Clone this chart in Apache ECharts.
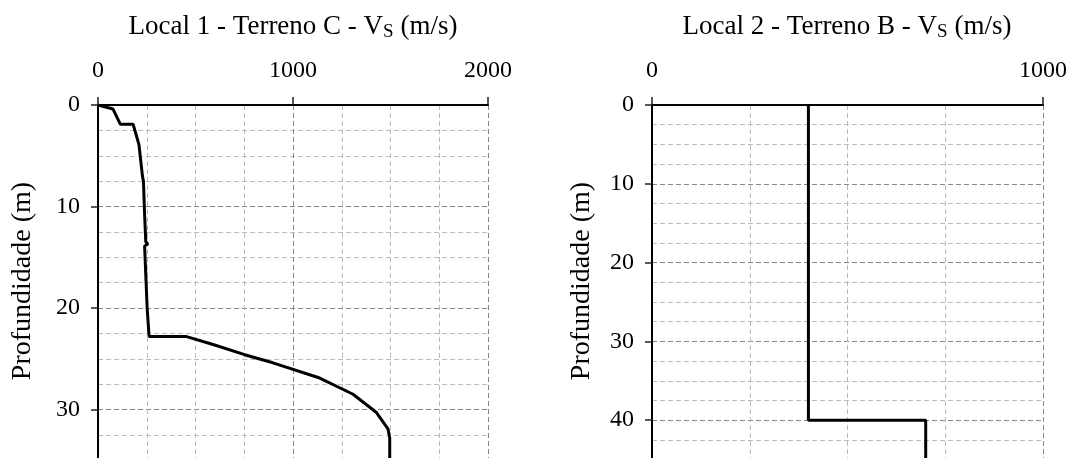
<!DOCTYPE html>
<html>
<head>
<meta charset="utf-8">
<script src="https://cdn.jsdelivr.net/npm/echarts@6/dist/echarts.min.js"></script>
<style>
  html, body { margin: 0; padding: 0; background: #fff; }
  #chart { width: 1069px; height: 458px; }
</style>
</head>
<body>
<div id="chart"></div>
<script>
// Local 1 - Terreno C
const local1Depth = [0, 0.4, 1.9, 1.9, 3.9, 7.0, 7.5, 7.6, 10.8, 13.5, 13.7, 13.9, 20.0, 22.8, 22.8, 23.6, 24.6, 25.4, 26.9, 28.5, 30.3, 31.9, 32.8, 35.5];
const local1Vs = [0, 77, 115, 180, 210, 228, 233, 228, 239, 245, 256, 239, 252, 262, 450, 590, 752, 897, 1137, 1308, 1428, 1487, 1496, 1496];

// Local 2 - Terreno B
const local2Depth = [0, 40, 40, 46];
const local2Vs = [400, 400, 700, 700];

const FONT = "'Liberation Serif', 'Times New Roman', serif";

function pairs(xs, ys) {
  return xs.map((x, i) => [x, ys[i]]);
}

function titleOf(text, cx) {
  return {
    text: '{n|' + text + ' - V}{s|S}{n| (m/s)}',
    left: cx,
    top: 12,
    textAlign: 'center',
    padding: 0,
    textStyle: {
      fontWeight: 'normal',
      rich: {
        n: { fontFamily: FONT, fontSize: 27, fontWeight: 'normal', color: '#000', lineHeight: 30 },
        s: { fontFamily: FONT, fontSize: 19, fontWeight: 'normal', color: '#000', lineHeight: 15, verticalAlign: 'bottom' }
      }
    }
  };
}

function xAxisOf(gridIndex, max) {
  return {
    type: 'value',
    gridIndex: gridIndex,
    position: 'top',
    min: 0,
    max: max,
    interval: 1000,
    axisLine: { show: true, lineStyle: { color: '#000', width: 2 } },
    axisTick: { show: true, length: 8, lineStyle: { color: '#222', width: 1.5 } },
    minorTick: { show: false, splitNumber: 4 },
    axisLabel: { fontFamily: FONT, fontSize: 24, color: '#000', margin: 22, formatter: v => String(v) },
    splitLine: { show: true, lineStyle: { color: '#888', type: [5, 3], width: 1 } },
    minorSplitLine: { show: true, lineStyle: { color: '#bbb', type: [5, 3], width: 1 } }
  };
}

function yAxisOf(gridIndex, max, gap, shift) {
  return {
    type: 'value',
    gridIndex: gridIndex,
    inverse: true,
    min: 0,
    max: max,
    interval: 10,
    name: 'Profundidade (m)',
    nameLocation: 'middle',
    nameGap: gap,
    nameTextStyle: { fontFamily: FONT, fontSize: 28, color: '#000', padding: [0, 0, 0, shift] },
    axisLine: { show: true, lineStyle: { color: '#000', width: 2 } },
    axisTick: { show: true, length: 7, lineStyle: { color: '#222', width: 1.5 } },
    minorTick: { show: false, splitNumber: 4 },
    axisLabel: { fontFamily: FONT, fontSize: 24, color: '#000', margin: 18, formatter: v => String(v) },
    splitLine: { show: true, lineStyle: { color: '#888', type: [5, 3], width: 1 } },
    minorSplitLine: { show: true, lineStyle: { color: '#bbb', type: [5, 3], width: 1 } }
  };
}

const chart = echarts.init(document.getElementById('chart'), null, { renderer: 'canvas' });
chart.setOption({
  animation: false,
  backgroundColor: '#fff',
  title: [titleOf('Local 1 - Terreno C', 293), titleOf('Local 2 - Terreno B', 847)],
  grid: [
    { left: 98, top: 105, width: 390, height: 406, outerBoundsMode: 'none' },
    { left: 652, top: 105, width: 391, height: 394, outerBoundsMode: 'none' }
  ],
  xAxis: [xAxisOf(0, 2000), xAxisOf(1, 1000)],
  yAxis: [yAxisOf(0, 40, 61, 54), yAxisOf(1, 50, 56, 42)],
  series: [
    {
      type: 'line',
      xAxisIndex: 0,
      yAxisIndex: 0,
      data: pairs(local1Vs, local1Depth),
      symbol: 'none',
      lineStyle: { color: '#000', width: 3 }
    },
    {
      type: 'line',
      xAxisIndex: 1,
      yAxisIndex: 1,
      data: pairs(local2Vs, local2Depth),
      symbol: 'none',
      lineStyle: { color: '#000', width: 3 }
    }
  ]
});
</script>
</body>
</html>
